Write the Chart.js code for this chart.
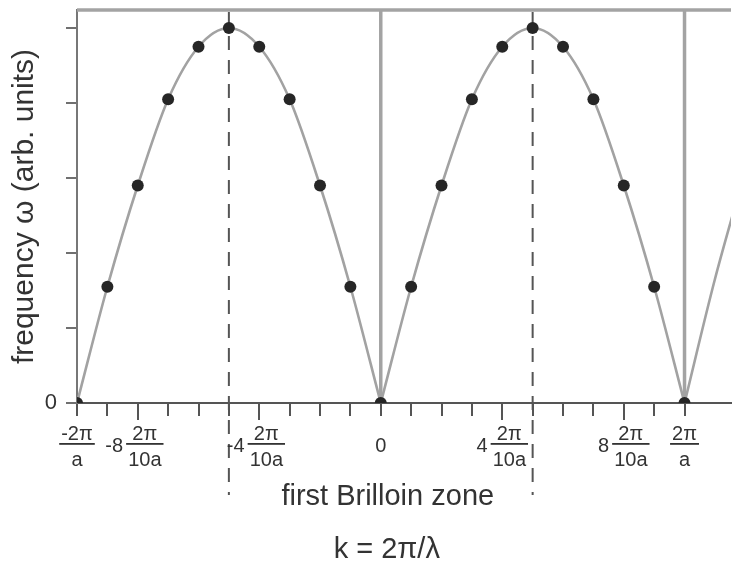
<!DOCTYPE html>
<html>
<head>
<meta charset="utf-8">
<script src="https://cdn.jsdelivr.net/npm/chart.js@4/dist/chart.umd.min.js"></script>
<style>
  html, body { margin: 0; padding: 0; background: #ffffff; overflow: hidden; }
  #wrap { width: 737px; height: 562px; }
</style>
</head>
<body>
<div id="wrap"><canvas id="dispersion" width="737" height="562"></canvas></div>
<script>
// Wave vector k in units of 2π/(10a); n = -10 … 10 spans the zone, 11–12 continue past it.
const kValues = [-10, -9, -8, -7, -6, -5, -4, -3, -2, -1, 0, 1, 2, 3, 4, 5, 6, 7, 8, 9, 10, 11, 12];
// Frequency ω (arb. units) at each k
const omegaValues = [0, 0.31, 0.58, 0.81, 0.95, 1.0, 0.95, 0.81, 0.58, 0.31, 0,
                     0.31, 0.58, 0.81, 0.95, 1.0, 0.95, 0.81, 0.58, 0.31, 0,
                     0.33, 0.62];
// Allowed modes marked with dots (k = -10 … 10)
const modeCount = 21;

// Axis range and ticks
const kMin = -10, kMax = 11.53;
const omegaMin = 0, omegaMax = 1.048;
const kTicks = [-10, -9, -8, -7, -6, -5, -4, -3, -2, -1, 0, 1, 2, 3, 4, 5, 6, 7, 8, 9, 10];
const omegaTicks = [0, 0.2, 0.4, 0.6, 0.8, 1.0];

// k-axis labels: coefficient, numerator and denominator of the fraction
const kLabelAt   = [-10,   -8,    -4,    0,   4,     8,     10];
const kLabelCoef = ['',    '-8',  '-4',  '',  '4',   '8',   ''];
const kLabelNum  = ['-2π', '2π',  '2π',  '0', '2π',  '2π',  '2π'];
const kLabelDen  = ['a',   '10a', '10a', '',  '10a', '10a', 'a'];

// Zone boundaries (solid) and zone midpoints (dashed)
const boundaryK = [0, 10];
const midpointK = [-5, 5];

const FONT = '"Liberation Sans", Arial, Helvetica, sans-serif';
Chart.defaults.font.family = FONT;

// Curve points, broken at each cusp so every arch keeps its sharp V at ω = 0
const curvePoints = [];
kValues.forEach((k, i) => {
  curvePoints.push({ x: k, y: omegaValues[i] });
  if (omegaValues[i] === 0 && i > 0 && i < kValues.length - 1) {
    curvePoints.push({ x: k, y: null });
    curvePoints.push({ x: k, y: omegaValues[i] });
  }
});
const modePoints = kValues.slice(0, modeCount).map((k, i) => ({ x: k, y: omegaValues[i] }));

const overlay = {
  id: 'zoneOverlay',
  beforeDatasetsDraw(chart) {
    const { ctx, chartArea: a, scales: { x } } = chart;
    ctx.save();
    // frame line along the top
    ctx.strokeStyle = '#a3a3a3';
    ctx.lineWidth = 3.5;
    ctx.beginPath();
    ctx.moveTo(a.left, a.top);
    ctx.lineTo(a.right, a.top);
    ctx.stroke();
    // zone boundaries
    boundaryK.forEach(k => {
      const px = x.getPixelForValue(k);
      ctx.beginPath();
      ctx.moveTo(px, a.top);
      ctx.lineTo(px, a.bottom);
      ctx.stroke();
    });
    // zone midpoints, dashed, running down through the labels
    ctx.strokeStyle = '#555555';
    ctx.lineWidth = 2;
    ctx.setLineDash([14, 10]);
    midpointK.forEach(k => {
      const px = x.getPixelForValue(k);
      ctx.beginPath();
      ctx.moveTo(px, a.top + 2);
      ctx.lineTo(px, a.bottom + 92);
      ctx.stroke();
    });
    ctx.restore();
  },
  afterDraw(chart) {
    const { ctx, chartArea: a, scales: { x } } = chart;
    const axisY = a.bottom;
    ctx.save();
    // labelled multiples of 2π/10a get a slightly longer tick
    ctx.strokeStyle = '#555555';
    ctx.lineWidth = 2;
    kLabelAt.forEach((k, i) => {
      if (!kLabelCoef[i]) return;
      const px = Math.round(x.getPixelForValue(k));
      ctx.beginPath();
      ctx.moveTo(px, axisY + 12);
      ctx.lineTo(px, axisY + 17);
      ctx.stroke();
    });
    ctx.fillStyle = '#333333';
    ctx.font = '20px ' + FONT;
    ctx.textBaseline = 'alphabetic';
    kLabelAt.forEach((k, i) => {
      const px = x.getPixelForValue(k);
      const coef = kLabelCoef[i], num = kLabelNum[i], den = kLabelDen[i];
      if (!den) {
        ctx.textAlign = 'center';
        ctx.fillText(num, px, axisY + 49);
        return;
      }
      const fracW = Math.max(ctx.measureText(num).width, ctx.measureText(den).width) + 4;
      const digits = coef.replace(/^-/, '');
      const digitW = digits ? ctx.measureText(digits).width : 0;
      const gap = coef ? 3 : 0;
      const left = px - (digitW + gap + fracW) / 2;
      if (coef) {
        ctx.textAlign = 'right';
        ctx.fillText(coef, left + digitW, axisY + 49);
      }
      const fx = left + digitW + gap + fracW / 2;
      ctx.fillRect(fx - fracW / 2, axisY + 40, fracW, 1.8);
      ctx.textAlign = 'center';
      ctx.fillText(num, fx, axisY + 37);
      ctx.fillText(den, fx, axisY + 63);
    });
    // k-axis titles, centred just right of k = 0
    const cx = x.getPixelForValue(0);
    ctx.textAlign = 'center';
    ctx.font = '29px ' + FONT;
    ctx.fillText('first Brilloin zone', cx + 7, axisY + 102);
    ctx.font = '29px ' + FONT;
    ctx.fillText('k = 2π/λ', cx + 6, axisY + 155);
    ctx.restore();
  }
};

new Chart(document.getElementById('dispersion'), {
  type: 'line',
  data: {
    datasets: [
      {
        label: 'dispersion',
        data: modePoints,
        showLine: false,
        pointRadius: 6,
        pointHoverRadius: 6,
        pointBackgroundColor: '#262626',
        pointBorderWidth: 0,
        order: 0
      },
      {
        label: 'curve',
        data: curvePoints,
        borderColor: '#a2a2a2',
        borderWidth: 2.6,
        pointRadius: 0,
        cubicInterpolationMode: 'monotone',
        spanGaps: false,
        fill: false,
        order: 1
      }
    ]
  },
  options: {
    responsive: false,
    animation: false,
    devicePixelRatio: 1,
    layout: { padding: { left: 0, right: 0, top: 10, bottom: 146 } },
    plugins: { legend: { display: false }, tooltip: { enabled: false } },
    scales: {
      x: {
        type: 'linear',
        min: kMin,
        max: kMax,
        afterBuildTicks: s => { s.ticks = kTicks.map(v => ({ value: v })); },
        ticks: { display: false },
        grid: { drawOnChartArea: false, drawTicks: true, tickLength: 13, tickColor: '#555555', tickWidth: 2, lineWidth: 2 },
        border: { display: true, color: '#555555', width: 2 },
        title: { display: false }
      },
      y: {
        min: omegaMin,
        max: omegaMax,
        afterBuildTicks: s => { s.ticks = omegaTicks.map(v => ({ value: v })); },
        afterFit: s => { s.width = 77; s.paddingTop = 0; s.paddingBottom = 0; },
        ticks: {
          padding: 9,
          color: '#333333',
          font: { size: 22 },
          callback: v => (v === 0 ? '0' : '')
        },
        grid: { drawOnChartArea: false, drawTicks: true, tickLength: 11, tickColor: '#707070', tickWidth: 2, lineWidth: 2 },
        border: { display: true, color: '#777777', width: 2 },
        title: {
          display: true,
          text: 'frequency ω (arb. units)',
          color: '#333333',
          font: { size: 30 },
          padding: { top: 7, bottom: 0 }
        }
      }
    }
  },
  plugins: [overlay]
});
</script>
</body>
</html>
